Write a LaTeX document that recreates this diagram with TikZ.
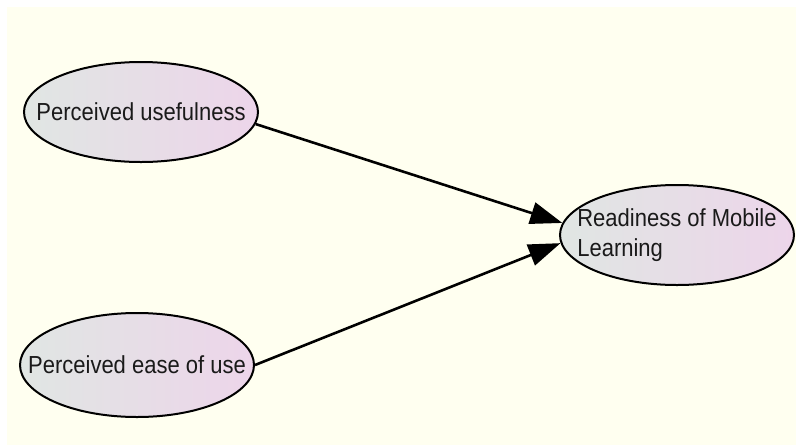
\documentclass[tikz,border=0pt]{standalone}
\usepackage{fontspec}
\setmainfont{Liberation Sans}
\usetikzlibrary{shapes.geometric,arrows.meta}
\definecolor{bgcream}{HTML}{FFFFF0}
\definecolor{lgray}{HTML}{E0E6E3}
\definecolor{lpink}{HTML}{EDD5EA}
\definecolor{txt}{HTML}{1A1A1A}
\tikzset{
  construct/.style={ellipse, draw=black, line width=2pt, left color=lgray, right color=lpink,
    minimum width=234pt, minimum height=100pt, inner sep=0pt, text=txt,
    font=\fontsize{22}{28}\selectfont},
  link/.style={line width=2.6pt, -{Triangle[length=32pt,width=22pt]}}
}
\begin{document}
\begin{tikzpicture}[x=1pt,y=1pt]
\useasboundingbox (0,0) rectangle (796,-445);
\fill[white] (0,0) rectangle (796,-445);
\fill[bgcream] (7,-7) rectangle (796,-445);
\node[construct] (pu) at (141,-112) {\makebox[0pt]{\scalebox{1}[1.12]{Perceived usefulness}}};
\node[construct, minimum height=104pt] (peou) at (137,-365) {\makebox[0pt]{\scalebox{1}[1.12]{Perceived ease of use}}};
\node[construct] (rml) at (677,-235) {\makebox[0pt]{\scalebox{1}[1.12]{\begin{tabular}{@{}l@{}}Readiness of Mobile\\[-1pt]Learning\end{tabular}}}};
\draw[link] (pu.-6) -- (rml.174);
\draw[link] (peou.east) -- (rml.184);
\end{tikzpicture}
\end{document}
